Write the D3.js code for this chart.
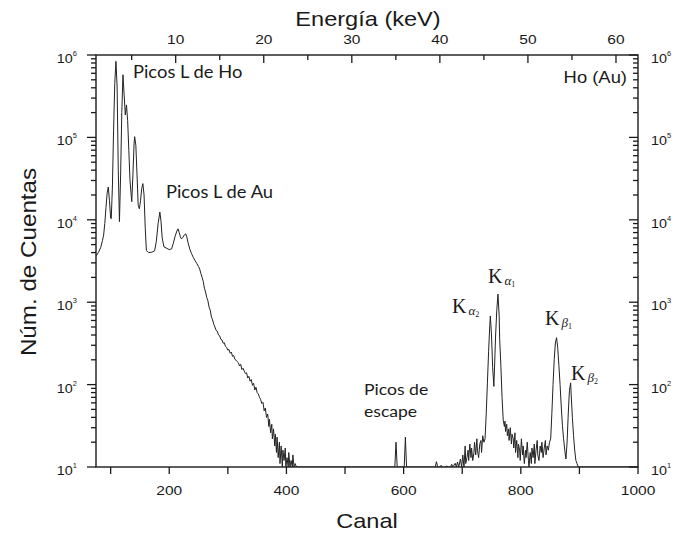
<!DOCTYPE html>
<html><head><meta charset="utf-8">
<script src="https://cdn.jsdelivr.net/npm/d3@7"></script>
<style>body{margin:0;background:#fff}</style>
</head><body>
<svg id="c" width="677" height="533"></svg>
<script>
// ---------- data ----------
const channels = [
 75,79,83,86,88,90,92,94,96,98,100,101,103,105,107,109,111,113,115,117,119,121,123,125,127,129,131,133,136,138,140,141,143,145,147,149,151,153,155,157,159,161,165,170,175,178,181,184,186,188,191,196,200,204,207,210,213,215,217,219,221,223,226,228,230,232,235,238,241,244,247,250,
 252,254,256,258,260,262,264,266,268,270,272,274,276,278,280,282,284,286,288,290,292,294,296,298,300,302,304,306,308,310,312,314,316,318,320,322,324,326,328,330,332,334,336,338,340,342,344,346,348,350,352,354,356,358,360,362,364,366,368,370,371,373,375,376,378,380,381,383,384,386,388,389,391,393,394,396,398,399,401,403,404,406,408,410,411,413,415,417,420,
 500,585,587,589,601,603,605,654,656,658,662,664,666,672,674,676,680,682,684,688,690,692,694,697,699,701,703,705,706,708,710,711,713,715,716,718,720,721,723,725,726,728,730,732,733,735,737,
 739,741,743,745,747,748,750,752,754,755,757,759,761,763,764,766,768,770,
 772,773,774,776,777,779,780,782,784,785,787,788,790,791,793,795,796,798,799,801,803,804,806,808,809,811,813,814,816,818,819,821,823,824,826,828,829,831,833,835,836,838,840,842,843,845,847,849,
 851,853,855,857,859,861,863,865,867,869,871,873,875,877,879,881,883,885,886,888,890,892,894,896,898,1000
];
const counts = [
 3640,4000,4600,5600,6500,9000,14000,21000,25000,17000,10500,10300,25000,120000,450000,838000,420000,40000,9500,35000,200000,575000,330000,187000,248000,160000,70000,30000,16600,35000,85000,102000,80000,35000,15000,13600,17000,24000,27500,20000,8000,4230,4000,4040,4200,5500,9000,12400,9500,6000,4690,4500,4350,4430,5200,6300,7300,7770,7000,6200,5860,6100,6600,6750,6200,5300,4430,3900,3500,3200,2950,2700,
 2520,2230,2010,1790,1480,1330,1140,1040,870,800,660,610,540,500,455,445,400,392,355,348,318,322,290,282,262,266,240,248,220,226,203,198,190,184,168,176,152,158,146,136,139,120,126,110,115,98,104,86,93,80,77,70,66,59,61,48,52,40,44,31,38,26,33,22,29,18,25,15,23,13,20,11,18,9,16,12,17,8,13,7,15,8,12,6,14,7,11,6,5,
 5,5,20,5,5,23,5,5,11.6,5,5,10.5,5,5,10.3,5,6,10.8,7,11.1,7,11.5,8,12.5,9,14,10,18,11,13,16,12,19,13,17,12,15,20,14,22,16,13,19,21,15,24,20,
 22,45,105,250,520,681,400,160,95,150,400,800,1253,700,350,167,70,37,
 31,36,27,33,24,29,21,30,19,25,22,17,26,15,21,13,19,16,12,22,14,18,11,16,13,20,12,10,15,11,17,13,19,11,16,21,14,12,18,15,20,13,17,21,14,18,16,20,
 22,45,100,200,320,371,280,170,100,55,32,22,16,12.5,20,45,85,105,75,40,24,16,12,11,6,5
];
const channelTicks = [100,200,300,400,500,600,700,800,900,1000];
const channelLabels = [200,400,600,800,1000];
const energyMajor = [10,20,30,40,50,60];
const energyMinor = [5,15,25,35,45,55];
const decadeExps = [1,2,3,4,5,6];

// ---------- layout ----------
const L = 96, R = 638, T = 55, B = 467;
const svg = d3.select("#c");
const x = d3.scaleLinear().domain([75, 1000]).range([L, R]);
const xE = d3.scaleLinear().domain([0.95, 62.5]).range([L, R]);
const y = d3.scaleLog().domain([10, 1e6]).range([B, T]).clamp(true);

const minorLog = [];
decadeExps.slice(0, 5).forEach(e => { for (let m = 2; m <= 9; m++) minorLog.push(m * Math.pow(10, e)); });
const majorLog = decadeExps.map(e => Math.pow(10, e));

const ink = "#1a1a1a";
const TW = 1.3;
function hTicks(vals, sc, x0, len) {   // ticks on a vertical axis
  svg.append("g").selectAll("line").data(vals).join("line")
    .attr("stroke", ink).attr("stroke-width", TW)
    .attr("x1", x0).attr("x2", x0 + len)
    .attr("y1", d => sc(d)).attr("y2", d => sc(d));
}
function vTicks(vals, sc, y0, len) {   // ticks on a horizontal axis
  svg.append("g").selectAll("line").data(vals).join("line")
    .attr("stroke", ink).attr("stroke-width", TW)
    .attr("y1", y0).attr("y2", y0 + len)
    .attr("x1", d => sc(d)).attr("x2", d => sc(d));
}
vTicks(channelTicks, x, B, 7);        // bottom, outward
vTicks(energyMajor, xE, T, 8);        // top, inward
vTicks(energyMinor, xE, T, 5);
hTicks(majorLog, y, L, -9);           // left, outward
hTicks(minorLog, y, L, -5);
hTicks(majorLog, y, R, -9);           // right, inward
hTicks(minorLog, y, R, -5);

// frame
svg.append("rect").attr("x", L).attr("y", T).attr("width", R - L).attr("height", B - T)
  .attr("fill", "none").attr("stroke", ink).attr("stroke-width", 1.4);

const SX = 1.15;
const sans = "'Liberation Sans', Arial, sans-serif";
function stext(px, py, str, size, anchor, family, sx) {
  return svg.append("text")
    .attr("transform", `translate(${px},${py}) scale(${sx || SX},1)`)
    .attr("text-anchor", anchor || "middle")
    .attr("font-family", family || sans)
    .attr("font-size", size).attr("fill", ink).text(str);
}

// tick labels
channelLabels.forEach(v => stext(x(v), B + 28, String(v), 13.5));
energyMajor.forEach(v => stext(xE(v), 44, String(v), 13.5));

function logLabel(px, py, exp, anchor) {
  const g = svg.append("g").attr("transform", `translate(${px},${py}) scale(${SX},1)`);
  const t = g.append("text").attr("font-family", sans).attr("fill", ink).attr("text-anchor", anchor);
  t.append("tspan").attr("font-size", 12.5).text("10");
  t.append("tspan").attr("font-size", 6.5).attr("dy", -7).text(String(exp));
}
decadeExps.forEach(e => {
  const ty = y(Math.pow(10, e));
  logLabel(L - 19, ty + 8, e, "end");
  logLabel(R + 13, ty + 8, e, "start");
});

// axis titles
stext(368, 26, "Energía (keV)", 20.5);
stext(367, 528, "Canal", 20.5);
svg.append("text")
  .attr("transform", `translate(36,262) rotate(-90) scale(1.1,1)`)
  .attr("text-anchor", "middle").attr("font-family", sans)
  .attr("font-size", 22).attr("fill", ink).text("Núm. de Cuentas");

// spectrum
const pts = channels.map((c, i) => ({ch: c, n: counts[i]}));
svg.append("clipPath").attr("id", "clip").append("rect")
  .attr("x", L).attr("y", T).attr("width", R - L).attr("height", B - T);
svg.append("path").datum(pts)
  .attr("clip-path", "url(#clip)")
  .attr("fill", "none").attr("stroke", "#222").attr("stroke-width", 1)
  .attr("stroke-linejoin", "round")
  .attr("d", d3.line().x(d => x(d.ch)).y(d => y(d.n)));

// annotations
const hum = "Lato, 'Open Sans', sans-serif";
stext(133, 78, "Picos L de Ho", 17, "start", hum, 1.08);
stext(166, 198, "Picos L de Au", 17, "start", hum, 1.08);
stext(364, 395, "Picos de", 16, "start", hum, 1.1);
stext(364, 417, "escape", 16, "start", hum, 1.1);
stext(627, 83, "Ho (Au)", 16, "end", sans);

const serif = "'Liberation Serif', 'Times New Roman', serif";
function kLabel(px, py, greek, sub) {
  const t = svg.append("text").attr("transform", `translate(${px},${py})`)
    .attr("font-family", serif).attr("fill", ink);
  t.append("tspan").attr("font-size", 20).text("K");
  t.append("tspan").attr("font-size", 13).attr("font-style", "italic").attr("dx", 2).attr("dy", 2).text(greek);
  t.append("tspan").attr("font-size", 8).attr("dy", 2).text(sub);
}
kLabel(452, 313, "α", "2");
kLabel(488, 283, "α", "1");
kLabel(545, 325, "β", "1");
kLabel(571, 380, "β", "2");
</script>
</body></html>
